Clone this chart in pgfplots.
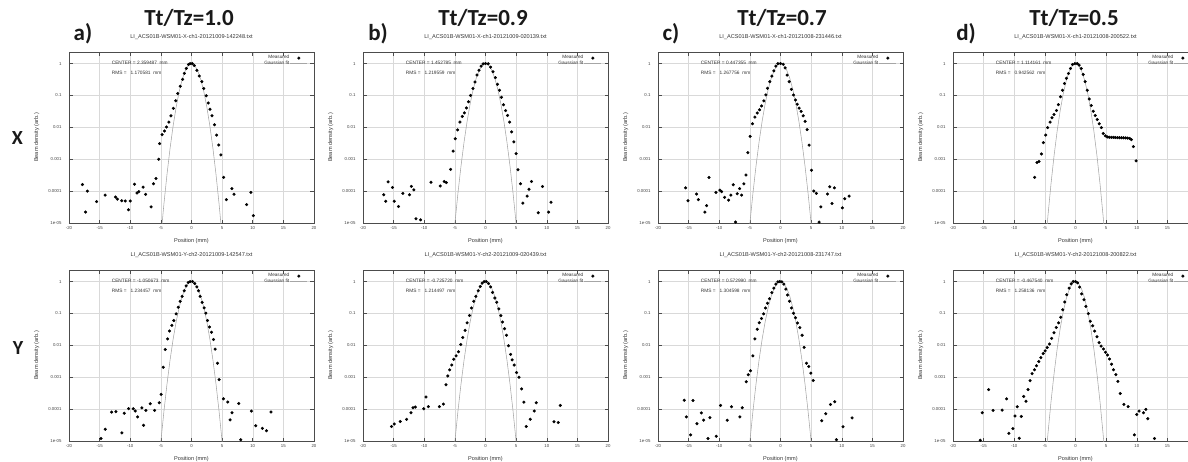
\documentclass[border=0pt]{standalone}
\usepackage{fontspec}
\setmainfont{Liberation Sans}
\newfontfamily\calfont{Carlito}
\usepackage{pgfplots}
\usepackage{pgfplotstable}
\pgfplotsset{compat=1.18}

% Gaussian fits (sigma about 1.00, 1.04, 0.96 mm)
\pgfplotstableread{
x y
-5.5 2.7e-7
-5 3.73e-6
-4.5 4.0e-5
-4 3.355e-4
-3.5 2.187e-3
-3 0.01111
-2.5 0.04394
-2 0.1353
-1.5 0.3247
-1 0.6065
-0.5 0.8825
0 1
0.5 0.8825
1 0.6065
1.5 0.3247
2 0.1353
2.5 0.04394
3 0.01111
3.5 2.187e-3
4 3.355e-4
4.5 4.0e-5
5 3.73e-6
5.5 2.7e-7
}\gaussA
\pgfplotstableread{
x y
-5.5 8.4e-7
-5 9.55e-6
-4.5 8.59e-5
-4 6.13e-4
-3.5 3.471e-3
-3 0.0156
-2.5 0.05563
-2 0.1574
-1.5 0.3534
-1 0.6298
-0.5 0.8909
0 1
0.5 0.8909
1 0.6298
1.5 0.3534
2 0.1574
2.5 0.05563
3 0.0156
3.5 3.471e-3
4 6.13e-4
4.5 8.59e-5
5 9.55e-6
5.5 8.4e-7
}\gaussB
\pgfplotstableread{
x y
-5 1.29e-6
-4.5 1.69e-5
-4 1.70e-4
-3.5 1.298e-3
-3 7.572e-3
-2.5 0.03367
-2 0.1142
-1.5 0.295
-1 0.5813
-0.5 0.873
0 1
0.5 0.873
1 0.5813
1.5 0.295
2 0.1142
2.5 0.03367
3 7.572e-3
3.5 1.298e-3
4 1.70e-4
4.5 1.69e-5
5 1.29e-6
}\gaussC

% measured profiles, X planes
\pgfplotstableread{
x y
-17.8 1.6e-4
-17.3 2.2e-5
-17.0 1.0e-4
-15.5 4.7e-5
-14.1 7.5e-5
-12.4 6.5e-5
-12.1 5.6e-5
-11.4 5.0e-5
-10.8 4.9e-5
-10.3 2.6e-5
-10.0 4.9e-5
-9.3 1.65e-4
-8.9 8.7e-5
-8.6 9.6e-5
-7.9 1.33e-4
-7.5 7.9e-5
-6.6 3.2e-5
-6.2 1.7e-4
-5.8 2.5e-4
-5.36 1.0e-3
-5.2 3.1e-3
-4.8 5.9e-3
-4.41 7.7e-3
-4.08 0.0102
-3.69 0.0146
-3.35 0.0229
-2.96 0.0396
-2.57 0.0684
-2.23 0.115
-1.84 0.194
-1.45 0.32
-1.17 0.49
-0.84 0.70
-0.5 0.93
-0.22 1.0
0.11 1.0
0.45 0.87
0.89 0.61
1.28 0.406
1.68 0.271
2.01 0.165
2.40 0.0977
2.74 0.058
3.02 0.0369
3.35 0.023
3.75 0.0121
4.1 5.7e-3
4.45 2.8e-3
4.8 1.36e-3
5.25 2.7e-4
5.7 5.4e-5
6.6 1.2e-4
6.95 8e-5
9.0 3.8e-5
9.7 9.1e-5
10.1 1.7e-5
}\dataAX
\pgfplotstableread{
x y
-16.6 7.7e-5
-16.3 4.8e-5
-15.9 1.95e-4
-15.2 1.3e-4
-14.9 4.8e-5
-14.2 3.3e-5
-13.5 8.5e-5
-12.4 7.7e-5
-12.1 1.4e-4
-11.7 1.1e-4
-11.35 1.35e-5
-10.6 1.26e-5
-8.9 1.9e-4
-7.4 1.45e-4
-6.75 2.0e-4
-6.4 1.85e-4
-5.7 4.8e-4
-5.28 1.8e-3
-4.94 4.4e-3
-4.56 8.3e-3
-4.17 0.0146
-3.78 0.0219
-3.44 0.0284
-3.11 0.0406
-2.78 0.0637
-2.44 0.1
-2.06 0.165
-1.72 0.265
-1.39 0.436
-1.06 0.62
-0.72 0.83
-0.39 0.98
0 1.0
0.44 0.98
0.83 0.77
1.22 0.55
1.61 0.36
1.94 0.224
2.28 0.146
2.61 0.087
2.94 0.051
3.28 0.0336
3.61 0.0235
3.94 0.0146
4.28 7.2e-3
4.63 3.5e-3
5.0 1.5e-3
5.3 4.7e-4
5.7 1.7e-4
6.1 4.2e-5
6.8 7e-5
7.1 1.15e-4
7.5 2.0e-4
8.6 2.1e-5
9.3 1.4e-4
10.3 2.2e-5
10.7 4.5e-5
}\dataBX
\pgfplotstableread{
x y
-15.49 1.27e-4
-15.1 5.0e-5
-13.7 8.1e-5
-13.42 5.4e-5
-12.34 2.2e-5
-12.07 3.5e-5
-11.68 2.66e-4
-10.54 9.1e-5
-9.9 1.07e-4
-9.62 9.6e-5
-9.13 6.4e-5
-8.48 5.2e-5
-8.1 7.5e-5
-7.72 1.58e-4
-7.34 1.07e-5
-7.07 8.3e-5
-6.68 1.2e-4
-6.36 7.5e-5
-5.98 1.7e-4
-5.65 3.2e-4
-5.33 1.6e-3
-4.95 5.2e-3
-4.57 0.013
-4.18 0.021
-3.8 0.028
-3.42 0.0354
-3.1 0.047
-2.72 0.0675
-2.39 0.104
-2.12 0.167
-1.74 0.269
-1.41 0.404
-1.09 0.59
-0.76 0.83
-0.43 1.0
0 1.0
0.43 0.95
0.76 0.73
1.09 0.434
1.41 0.269
1.79 0.155
2.12 0.104
2.45 0.072
2.72 0.053
3.04 0.04
3.37 0.0315
3.7 0.023
4.02 0.0154
4.35 8.5e-3
4.67 2.75e-3
5.05 4.5e-4
5.43 1.0e-4
5.87 8.5e-5
6.3 1.07e-5
6.58 3.2e-5
7.66 8.1e-5
8.04 1.36e-4
8.42 4.1e-5
8.8 1.27e-4
10.1 3.0e-5
10.49 5.8e-5
11.2 7.0e-5
}\dataCX
\pgfplotstableread{
x y
-6.67 2.7e-4
-6.28 7.9e-4
-5.96 8.5e-4
-5.57 1.46e-3
-5.25 3.3e-3
-4.86 5.7e-3
-4.54 9.8e-3
-4.15 0.0146
-3.83 0.02
-3.5 0.0252
-3.11 0.0336
-2.79 0.0514
-2.46 0.091
-2.13 0.146
-1.80 0.235
-1.48 0.344
-1.15 0.49
-0.82 0.70
-0.49 0.93
-0.1 1.0
0.27 1.0
0.6 0.89
0.93 0.70
1.26 0.457
1.58 0.271
1.91 0.146
2.24 0.077
2.57 0.048
2.9 0.032
3.22 0.0235
3.55 0.0177
3.88 0.013
4.21 9.8e-3
4.54 6.4e-3
4.86 5.4e-3
5.19 5.0e-3
5.5 4.9e-3
5.85 4.85e-3
6.18 4.85e-3
6.5 4.8e-3
6.85 4.75e-3
7.18 4.75e-3
7.5 4.7e-3
7.85 4.7e-3
8.18 4.65e-3
8.5 4.6e-3
8.85 4.5e-3
9.13 4.1e-3
9.45 2.5e-3
9.89 8.9e-4
}\dataDX

% measured profiles, Y planes
\pgfplotstableread{
x y
-14.78 1.2e-5
-14.08 2.35e-5
-13.04 8.1e-5
-12.34 8.3e-5
-11.36 1.8e-5
-10.98 7.4e-5
-10.27 1.03e-4
-9.51 1.03e-4
-9.18 8.7e-5
-8.8 5.7e-5
-8.1 1.1e-4
-7.83 3.1e-5
-7.45 9.1e-5
-6.74 1.47e-4
-6.03 9.1e-5
-5.27 1.58e-4
-4.95 2.9e-4
-4.62 2.06e-3
-4.29 7.4e-3
-3.91 0.0159
-3.59 0.0282
-3.21 0.0423
-2.88 0.060
-2.5 0.097
-2.17 0.156
-1.85 0.24
-1.52 0.343
-1.2 0.514
-0.87 0.73
-0.54 0.93
-0.22 1.0
0.16 1.0
0.54 0.87
0.87 0.68
1.14 0.514
1.41 0.343
1.74 0.223
2.07 0.149
2.34 0.102
2.61 0.060
2.93 0.0375
3.26 0.0257
3.59 0.0152
3.86 7.6e-3
4.24 2.75e-3
4.51 8.4e-4
5.22 2.1e-4
5.92 1.66e-4
6.3 4.6e-5
6.63 7.7e-5
7.72 1.5e-4
8.04 1.1e-5
9.78 8.7e-5
10.49 3.0e-5
11.58 2.5e-5
12.23 2.1e-5
12.99 8.1e-5
}\dataAY
\pgfplotstableread{
x y
-15.33 2.85e-5
-14.89 3.4e-5
-13.91 4.1e-5
-12.88 4.8e-5
-12.17 7.7e-5
-11.84 1.1e-4
-11.46 1.16e-4
-10.09 1.03e-4
-9.71 2.4e-4
-9.33 1.19e-4
-7.53 1.19e-4
-6.87 1.44e-4
-6.44 5.8e-4
-6.16 1.1e-3
-5.84 1.7e-3
-5.51 2.4e-3
-5.18 3.65e-3
-4.8 4.7e-3
-4.42 6.3e-3
-4.04 0.0106
-3.71 0.0175
-3.33 0.0296
-3.0 0.051
-2.62 0.086
-2.29 0.149
-1.91 0.24
-1.58 0.343
-1.2 0.514
-0.87 0.70
-0.55 0.89
-0.22 1.0
0.11 1.0
0.49 0.87
0.82 0.68
1.15 0.456
1.53 0.305
1.85 0.224
2.18 0.139
2.51 0.086
2.78 0.0536
3.11 0.0333
3.44 0.0207
3.76 9.7e-3
4.09 5.2e-3
4.36 3.5e-3
4.69 2.4e-3
5.07 1.4e-3
5.46 1.0e-3
5.89 4.3e-4
6.27 1.65e-4
6.66 2.85e-5
7.31 4.8e-5
7.97 8.7e-5
8.29 1.58e-4
11.18 4.0e-5
11.89 3.8e-5
12.22 1.3e-4
}\dataBY
\pgfplotstableread{
x y
-15.71 1.9e-4
-15.38 5.7e-5
-14.67 1.55e-5
-14.29 1.87e-4
-13.64 3.5e-5
-12.93 7.6e-5
-12.55 4.5e-5
-11.85 1.2e-5
-11.52 5.4e-5
-10.49 1.4e-5
-9.78 1.3e-4
-8.7 4.5e-5
-7.99 1.19e-4
-6.63 5.7e-5
-6.25 1.1e-4
-5.6 7.2e-4
-5.27 1.19e-3
-4.89 1.6e-3
-4.51 4.7e-3
-4.18 0.0159
-3.8 0.0318
-3.48 0.051
-3.1 0.0697
-2.77 0.097
-2.45 0.149
-2.12 0.209
-1.79 0.29
-1.41 0.446
-1.09 0.62
-0.76 0.83
-0.43 0.98
-0.11 1.0
0.22 0.98
0.54 0.83
0.87 0.58
1.14 0.377
1.47 0.24
1.79 0.149
2.12 0.102
2.45 0.073
2.77 0.050
3.15 0.0358
3.53 0.0207
3.86 8.6e-3
4.24 2.75e-3
4.62 2.16e-3
4.95 1.34e-3
5.33 7.9e-4
6.74 4.3e-5
7.39 7.2e-5
8.15 1.4e-4
8.86 1.7e-4
9.13 1.1e-5
10.22 2.8e-5
11.68 5.3e-5
}\dataCY
\pgfplotstableread{
x y
-15.55 1.06e-5
-15.22 7.7e-5
-14.18 4.1e-4
-13.46 9.1e-5
-11.98 9.3e-5
-11.26 2.1e-4
-10.88 1.75e-5
-10.22 2.45e-5
-9.89 6.1e-5
-9.51 1.18e-4
-9.18 1.22e-5
-8.85 5.9e-5
-8.46 2.5e-4
-8.08 1.77e-4
-7.75 4.1e-4
-7.42 7.8e-4
-7.09 1.29e-3
-6.7 1.71e-3
-6.37 2.28e-3
-5.99 3.1e-3
-5.66 4.1e-3
-5.27 5.5e-3
-4.95 6.7e-3
-4.62 8.5e-3
-4.23 0.011
-3.9 0.0165
-3.52 0.0248
-3.13 0.0363
-2.75 0.0507
-2.42 0.076
-2.09 0.131
-1.76 0.228
-1.43 0.385
-1.04 0.62
-0.71 0.85
-0.38 1.0
0 1.0
0.33 0.91
0.66 0.67
0.99 0.41
1.37 0.269
1.7 0.167
2.09 0.099
2.42 0.057
2.8 0.041
3.13 0.028
3.52 0.0186
3.85 0.0121
4.18 9.5e-3
4.56 7.7e-3
4.89 6.1e-3
5.22 5.0e-3
5.55 3.7e-3
5.88 2.57e-3
6.21 1.71e-3
6.59 1.2e-3
6.92 7.4e-4
7.3 3.1e-4
7.9 1.4e-4
8.6 1.2e-4
9.62 1.56e-5
10.0 6.8e-5
10.38 8.7e-5
11.1 7.7e-5
11.48 9.8e-5
11.81 5.0e-5
12.91 1.2e-5
}\dataDY

\pgfplotsset{
  beamplot/.style={
    scale only axis, width=245pt, height=171pt,
    anchor=north west,
    xmin=-20, xmax=20, ymin=1e-5, ymax=2.3,
    xtick={-20,-15,...,20},
    xticklabels={-20,-15,-10,-5,0,5,10,15,20},
    ytick={1e-5,1e-4,1e-3,1e-2,1e-1,1},
    yticklabels={1e-05,0.0001,0.001,0.01,0.1,1},
    yminorticks=false,
    grid=major, major grid style={black!15, line width=0.4pt},
    axis line style={black!70, line width=0.7pt},
    major tick style={black!70, line width=0.5pt},
    major tick length=3.5pt,
    tick label style={font=\fontsize{4.3}{5}\selectfont, text=black!75},
    yticklabel style={xshift=-4pt},
    xlabel={Position (mm)}, ylabel={Beam density (arb.)},
    every axis x label/.style={at={(axis description cs:0.5,-0.103)}, anchor=center,
      font=\fontsize{5.6}{6.5}\selectfont, text=black!80},
    every axis y label/.style={at={(axis description cs:-0.132,0.5)}, anchor=center, rotate=90,
      font=\fontsize{5.6}{6.5}\selectfont, text=black!80},
    title style={font=\fontsize{5.6}{7}\selectfont, text=black!80,
      at={(axis description cs:0.5,1.052)}, anchor=center},
    legend style={draw=none, fill=none, at={(axis description cs:0.975,0.985)},
      anchor=north east, font=\fontsize{4.7}{5.5}\selectfont, text=black!80,
      row sep=-1pt, inner sep=0pt, nodes={inner sep=0.8pt}},
    legend cell align=right,
    legend plot pos=right,
  },
  lastcol/.style={xticklabels={-20,-15,-10,-5,0,5,10,15,{}}},
  meas/.style={only marks, mark=*, mark size=1.35pt, black},
  gfit/.style={no marks, black!35, line width=0.55pt},
}
\tikzset{
  info/.style={anchor=west, font=\fontsize{4.8}{5.5}\selectfont, text=black!80, inner sep=0pt},
  big/.style={font=\calfont\bfseries\fontsize{23}{26}\selectfont, text=black!90},
}

\begin{document}
\begin{tikzpicture}
% top row: X planes
\begin{semilogyaxis}[beamplot, at={(69pt,-52pt)}, title={LI\_ACS01B-WSM01-X-ch1-20121009-142248.txt}]
\addplot[meas] table {\dataAX};
\addplot[gfit] table {\gaussA};
\legend{Measured, Gaussian fit}
\node[info] at (rel axis cs:0.174,0.936) {CENTER = 2.359487 \ mm};
\node[info] at (rel axis cs:0.174,0.877) {RMS = \ \ 1.170581 \ mm};
\end{semilogyaxis}
\begin{semilogyaxis}[beamplot, at={(363pt,-52pt)}, title={LI\_ACS01B-WSM01-X-ch1-20121009-020139.txt}]
\addplot[meas] table {\dataBX};
\addplot[gfit] table {\gaussB};
\legend{Measured, Gaussian fit}
\node[info] at (rel axis cs:0.174,0.936) {CENTER = 1.452785 \ mm};
\node[info] at (rel axis cs:0.174,0.877) {RMS = \ \ 1.219559 \ mm};
\end{semilogyaxis}
\begin{semilogyaxis}[beamplot, at={(658pt,-52pt)}, title={LI\_ACS01B-WSM01-X-ch1-20121008-231446.txt}]
\addplot[meas] table {\dataCX};
\addplot[gfit] table {\gaussB};
\legend{Measured, Gaussian fit}
\node[info] at (rel axis cs:0.174,0.936) {CENTER = 0.447355 \ mm};
\node[info] at (rel axis cs:0.174,0.877) {RMS = \ \ 1.267756 \ mm};
\end{semilogyaxis}
\begin{semilogyaxis}[beamplot, lastcol, at={(953pt,-52pt)}, title={LI\_ACS01B-WSM01-X-ch1-20121008-200522.txt}]
\addplot[meas] table {\dataDX};
\addplot[gfit] table {\gaussC};
\legend{Measured, Gaussian fit}
\node[info] at (rel axis cs:0.174,0.936) {CENTER = 1.114161 \ mm};
\node[info] at (rel axis cs:0.174,0.877) {RMS = \ \ 0.942562 \ mm};
\end{semilogyaxis}
% bottom row: Y planes
\begin{semilogyaxis}[beamplot, at={(69pt,-270pt)}, title={LI\_ACS01B-WSM01-Y-ch2-20121009-142547.txt}]
\addplot[meas] table {\dataAY};
\addplot[gfit] table {\gaussB};
\legend{Measured, Gaussian fit}
\node[info] at (rel axis cs:0.174,0.936) {CENTER = -1.050673 \ mm};
\node[info] at (rel axis cs:0.174,0.877) {RMS = \ \ 1.234457 \ mm};
\end{semilogyaxis}
\begin{semilogyaxis}[beamplot, at={(363pt,-270pt)}, title={LI\_ACS01B-WSM01-Y-ch2-20121009-020439.txt}]
\addplot[meas] table {\dataBY};
\addplot[gfit] table {\gaussB};
\legend{Measured, Gaussian fit}
\node[info] at (rel axis cs:0.174,0.936) {CENTER = -0.725720 \ mm};
\node[info] at (rel axis cs:0.174,0.877) {RMS = \ \ 1.214497 \ mm};
\end{semilogyaxis}
\begin{semilogyaxis}[beamplot, at={(658pt,-270pt)}, title={LI\_ACS01B-WSM01-Y-ch2-20121008-231747.txt}]
\addplot[meas] table {\dataCY};
\addplot[gfit] table {\gaussB};
\legend{Measured, Gaussian fit}
\node[info] at (rel axis cs:0.174,0.936) {CENTER = 0.572990 \ mm};
\node[info] at (rel axis cs:0.174,0.877) {RMS = \ \ 1.304598 \ mm};
\end{semilogyaxis}
\begin{semilogyaxis}[beamplot, lastcol, at={(953pt,-270pt)}, title={LI\_ACS01B-WSM01-Y-ch2-20121008-200822.txt}]
\addplot[meas] table {\dataDY};
\addplot[gfit] table {\gaussC};
\legend{Measured, Gaussian fit}
\node[info] at (rel axis cs:0.174,0.936) {CENTER = -0.467540 \ mm};
\node[info] at (rel axis cs:0.174,0.877) {RMS = \ \ 1.258136 \ mm};
\end{semilogyaxis}
% column and row headings
\node[big] at (189pt,-18pt) {Tt/Tz=1.0};
\node[big] at (483pt,-18pt) {Tt/Tz=0.9};
\node[big] at (782pt,-18pt) {Tt/Tz=0.7};
\node[big] at (1074pt,-18pt) {Tt/Tz=0.5};
\node[big] at (83pt,-34pt) {a)};
\node[big] at (378pt,-34pt) {b)};
\node[big] at (671pt,-34pt) {c)};
\node[big] at (966pt,-34pt) {d)};
\node[big, font=\calfont\bfseries\fontsize{20}{24}\selectfont] at (17.5pt,-138pt) {X};
\node[big, font=\calfont\bfseries\fontsize{20}{24}\selectfont] at (18pt,-348pt) {Y};
\pgfresetboundingbox
\path[use as bounding box] (0pt,0pt) rectangle (1188pt,-461pt);
\end{tikzpicture}
\end{document}
